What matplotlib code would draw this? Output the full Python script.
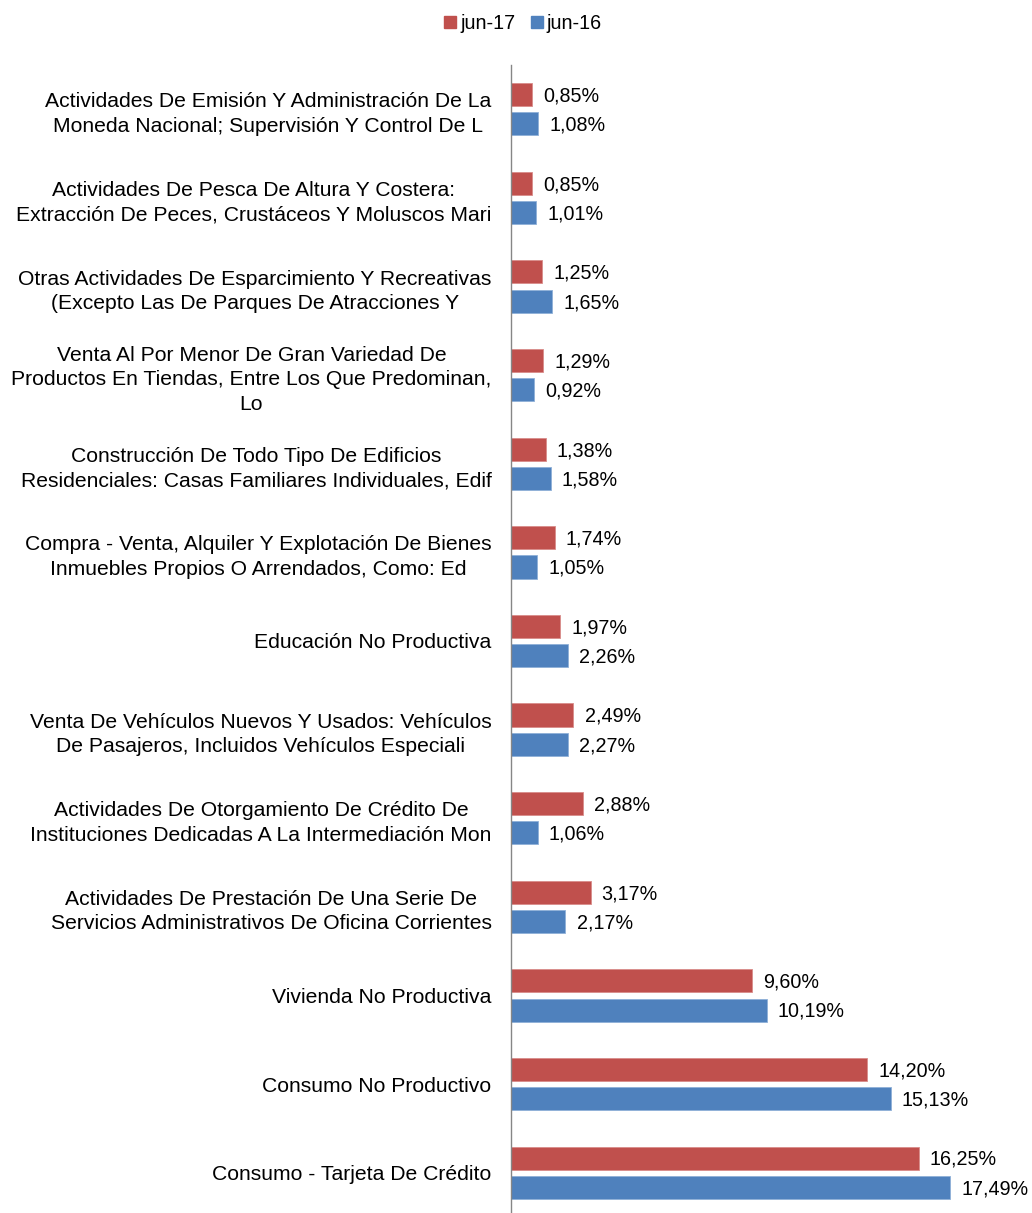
import matplotlib.pyplot as plt
from matplotlib.lines import Line2D

# Data (top to bottom as shown)
categories = [
    "Actividades De Emisión Y Administración De La\nMoneda Nacional; Supervisión Y Control De L",
    "Actividades De Pesca De Altura Y Costera:\nExtracción De Peces, Crustáceos Y Moluscos Mari",
    "Otras Actividades De Esparcimiento Y Recreativas\n(Excepto Las De Parques De Atracciones Y",
    "Venta Al Por Menor De Gran Variedad De\nProductos En Tiendas, Entre Los Que Predominan,\nLo",
    "Construcción De Todo Tipo De Edificios\nResidenciales: Casas Familiares Individuales, Edif",
    "Compra - Venta, Alquiler Y Explotación De Bienes\nInmuebles Propios O Arrendados, Como: Ed",
    "Educación No Productiva",
    "Venta De Vehículos Nuevos Y Usados: Vehículos\nDe Pasajeros, Incluidos Vehículos Especiali",
    "Actividades De Otorgamiento De Crédito De\nInstituciones Dedicadas A La Intermediación Mon",
    "Actividades De Prestación De Una Serie De\nServicios Administrativos De Oficina Corrientes",
    "Vivienda No Productiva",
    "Consumo No Productivo",
    "Consumo - Tarjeta De Crédito",
]
jun17 = [0.85, 0.85, 1.25, 1.29, 1.38, 1.74, 1.97, 2.49, 2.88, 3.17, 9.60, 14.20, 16.25]
jun16 = [1.08, 1.01, 1.65, 0.92, 1.58, 1.05, 2.26, 2.27, 1.06, 2.17, 10.19, 15.13, 17.49]

red = '#C0504D'
blue = '#4F81BD'

plt.rcParams['font.family'] = ['Liberation Sans', 'DejaVu Sans']

fig = plt.figure(figsize=(10.32, 12.13), dpi=100)
ax = fig.add_axes([511 / 1032, -4 / 1213, 1 - 511 / 1032, (1217 - 65) / 1213])

pos = list(range(len(categories)))
h = 0.26
off = 0.165
ax.barh([p - off for p in pos], jun17, height=h, color=red, edgecolor='#D98C8A', linewidth=0.6)
ax.barh([p + off for p in pos], jun16, height=h, color=blue, edgecolor='#8FB0D8', linewidth=0.6)

for p, v in zip(pos, jun17):
    ax.annotate(f"{v:.2f}%".replace('.', ','), xy=(v, p - off), xytext=(8, -1),
                textcoords='offset points', va='center', ha='left', fontsize=14.2)
for p, v in zip(pos, jun16):
    ax.annotate(f"{v:.2f}%".replace('.', ','), xy=(v, p + off), xytext=(8, -1),
                textcoords='offset points', va='center', ha='left', fontsize=14.2)

ax.set_xlim(0, 20.76)
ax.set_ylim(12.5, -0.5)
ax.set_yticks(pos)
ax.set_yticklabels(categories, fontsize=15.2, multialignment='center', linespacing=1.36)
ax.tick_params(axis='y', length=0, pad=14)
ax.set_xticks([])
for s in ['top', 'right', 'bottom']:
    ax.spines[s].set_visible(False)
ax.spines['left'].set_color('#868686')
ax.spines['left'].set_linewidth(1)

handles = [Line2D([], [], marker='s', linestyle='', color=red, markersize=9),
           Line2D([], [], marker='s', linestyle='', color=blue, markersize=9)]
fig.legend(handles, ['jun-17', 'jun-16'], loc='center', bbox_to_anchor=(0.505, 0.981),
           ncol=2, frameon=False, fontsize=14.2, handletextpad=0.0, columnspacing=0.6,
           handlelength=1.0)

fig.savefig('out.png', dpi=100)
